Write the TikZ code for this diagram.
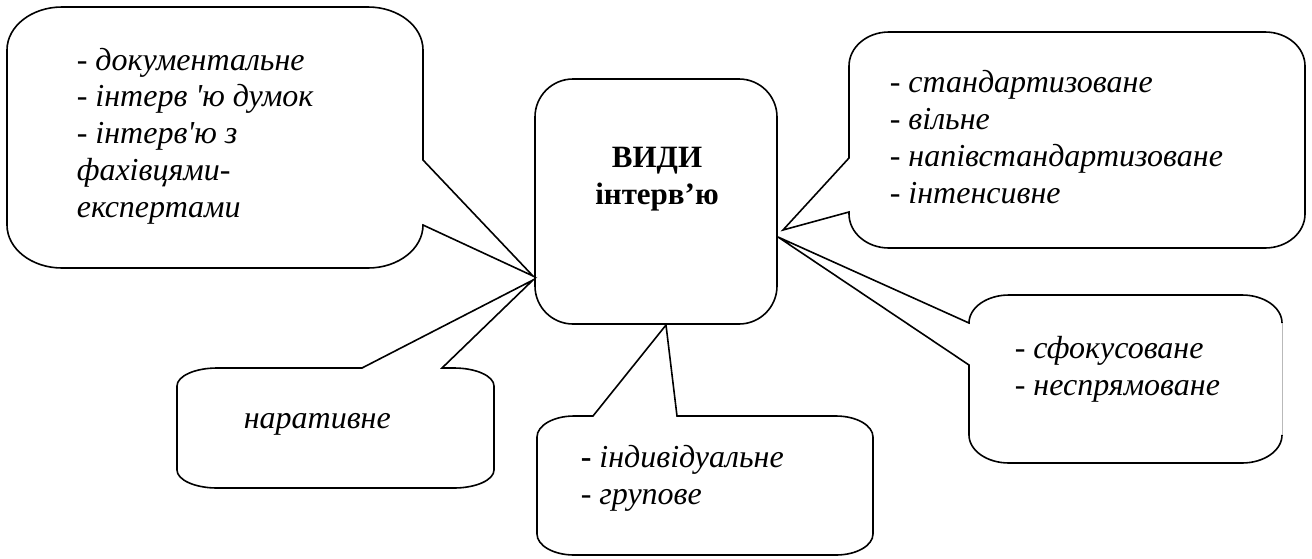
\documentclass[tikz,border=0pt]{standalone}
\usepackage{fontspec}
\setmainfont{Liberation Serif}
\begin{document}
\begin{tikzpicture}[x=1pt,y=-1pt,line width=1.6pt,line join=miter,
  lbl/.style={anchor=base west,inner sep=0pt,align=left,font=\fontsize{32}{36.75}\selectfont\itshape},
  ttl/.style={anchor=base,inner sep=0pt,align=center,font=\fontsize{31}{37}\selectfont\bfseries},
  hub/.style={draw,rounded corners=38pt,minimum width=242pt,minimum height=245pt,inner sep=0pt},
  clip edge/.style={draw=gray!55,line width=0.8pt}]
\useasboundingbox (0,0) rectangle (1312,558);
% central box
\node[hub] (center) at (656,201.5) {};
\node[ttl] (title) at (657,204) {ВИДИ\\інтерв’ю};
% wedge tips
\coordinate (tipTL) at (533,276);
\coordinate (tipN) at (533,280);
\coordinate (tipTR) at (783,230);
\coordinate (tipR) at (778,237);
\coordinate (tipB) at (666,325);
% top-left callout
\draw (7,50) .. controls +(0,-23.7) and +(-30.4,0) .. (62,7) -- (368,7)
  .. controls +(30.4,0) and +(0,-23.7) .. (423,50) -- (423,160) -- (tipTL) -- (423,225)
  .. controls +(0,23.7) and +(30.4,0) .. (368,268) -- (62,268)
  .. controls +(-30.4,0) and +(0,23.7) .. (7,225) -- cycle;
% top-right callout
\draw (849,66) .. controls +(0,-18.8) and +(-22.1,0) .. (889,32) -- (1265,32)
  .. controls +(22.1,0) and +(0,-18.8) .. (1305,66) -- (1305,214)
  .. controls +(0,18.8) and +(22.1,0) .. (1265,248) -- (889,248)
  .. controls +(-22.1,0) and +(0,18.8) .. (849,214) -- (849,212) -- (tipTR) -- (849,158) -- cycle;
% right callout
\draw (1282,435) .. controls +(0,15.5) and +(22.1,0) .. (1242,463) -- (1009,463)
  .. controls +(-22.1,0) and +(0,15.5) .. (969,435) -- (969,365) -- (tipR) -- (969,323)
  .. controls +(0,-15.5) and +(-22.1,0) .. (1009,295) -- (1242,295)
  .. controls +(22.1,0) and +(0,-15.5) .. (1282,323);
\draw[clip edge] (1282,323) -- (1282,435);
% narrative callout
\draw (177,386) .. controls +(0,-9.9) and +(-22.1,0) .. (217,368) -- (362,368) -- (tipN) -- (442,368)
  -- (454,368) .. controls +(22.1,0) and +(0,-9.9) .. (494,386) -- (494,470)
  .. controls +(0,9.9) and +(22.1,0) .. (454,488) -- (217,488)
  .. controls +(-22.1,0) and +(0,9.9) .. (177,470) -- cycle;
% bottom callout
\draw (537,437) .. controls +(0,-11.6) and +(-20.4,0) .. (574,416) -- (593,416) -- (tipB) -- (677,416)
  -- (836,416) .. controls +(20.4,0) and +(0,-11.6) .. (873,437) -- (873,534)
  .. controls +(0,11.6) and +(20.4,0) .. (836,555) -- (574,555)
  .. controls +(-20.4,0) and +(0,11.6) .. (537,534) -- cycle;
% texts (anchored at the baseline of the last line)
\node[lbl] (tl) at (76,217) {- документальне\\- інтерв \textquotesingle ю думок\\- інтерв\textquotesingle ю з\\фахівцями-\\експертами};
\node[lbl] (tr) at (889,203) {- стандартизоване\\- вільне\\- напівстандартизоване\\- інтенсивне};
\node[lbl] (rt) at (1014,395) {- сфокусоване\\- неспрямоване};
\node[lbl] (nr) at (243,428) {наративне};
\node[lbl] (bt) at (580,504) {\textbf{\upshape -} індивідуальне\\- групове};
\end{tikzpicture}
\end{document}
